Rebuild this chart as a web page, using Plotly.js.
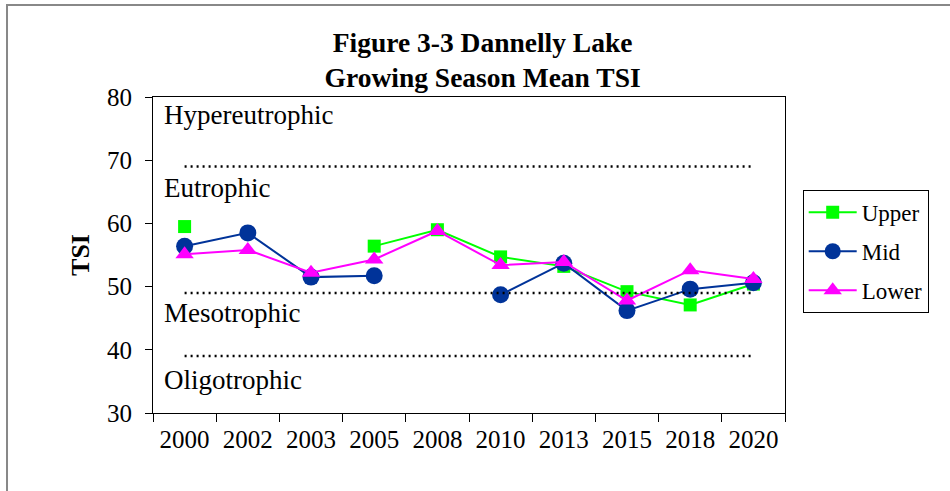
<!DOCTYPE html>
<html>
<head>
<meta charset="utf-8">
<script src="https://cdn.plot.ly/plotly-3.0.1.min.js"></script>
<style>
  html, body { margin: 0; padding: 0; background: #ffffff; }
  #chart { width: 950px; height: 491px; }
</style>
</head>
<body>
<div id="chart"></div>
<script>
// ---- Data ----
const years = ["2000", "2002", "2003", "2005", "2008", "2010", "2013", "2015", "2018", "2020"];
const upper = [59.5, null, null, 56.4, 59.0, 54.7, 53.2, 49.2, 47.1, 50.4];
const mid   = [56.4, 58.5, 51.5, 51.7, null, 48.7, 53.7, 46.2, 49.6, 50.6];
const lower = [55.1, 55.8, 52.2, 54.3, 58.8, 53.4, 53.9, 47.8, 52.6, 51.2];

const boundaries = [69, 49, 39];
const zoneNames = ["Hypereutrophic", "Eutrophic", "Mesotrophic", "Oligotrophic"];
const zoneLabelY = [77.2, 65.6, 45.9, 35.2];

const yTicks = [30, 40, 50, 60, 70, 80];

const serif = "Liberation Serif, Times New Roman, serif";

const traces = [
  { x: years, y: upper, name: "Upper", type: "scatter", mode: "lines+markers",
    line: { color: "#00ff00", width: 2 },
    marker: { symbol: "square", size: 13, color: "#00ff00" },
    legendgroup: "a" },
  { x: years, y: mid, name: "Mid", type: "scatter", mode: "lines+markers",
    line: { color: "#003399", width: 2 },
    marker: { symbol: "circle", size: 17, color: "#003399" },
    legendgroup: "b" },
  { x: years, y: lower, name: "Lower", type: "scatter", mode: "lines+markers",
    line: { color: "#ff00ff", width: 2 },
    marker: { symbol: "triangle-up", size: 16, color: "#ff00ff" },
    legendgroup: "c" }
];

const shapes = boundaries.map(v => ({
  type: "line", xref: "x", yref: "y",
  x0: 0, x1: years.length - 1, y0: v, y1: v,
  line: { color: "#000000", width: 2.5, dash: "2px,4px" }
}));
// outer frame of the picture
shapes.push({
  type: "rect", xref: "paper", yref: "paper",
  x0: -0.231, x1: 1.6, y0: -0.6, y1: 1.291,
  line: { color: "#888888", width: 2 }, layer: "below"
});

const annotations = zoneNames.map((t, i) => ({
  text: t, xref: "paper", yref: "y", x: 0.014, y: zoneLabelY[i],
  xanchor: "left", yanchor: "middle", showarrow: false,
  font: { family: serif, size: 27, color: "#000000" }
}));

const layout = {
  width: 950, height: 491,
  margin: { l: 153, r: 165, t: 97, b: 78 },
  paper_bgcolor: "#ffffff", plot_bgcolor: "#ffffff",
  font: { family: serif, color: "#000000" },
  title: {
    text: "<b>Figure 3-3 Dannelly Lake</b><br><b>Growing Season Mean TSI</b>",
    font: { family: serif, size: 27.5, color: "#000000" },
    xref: "container", x: 0.508, xanchor: "center",
    yref: "container", y: 0.895, yanchor: "top"
  },
  xaxis: {
    type: "category", range: [-0.5, 9.5],
    tickson: "boundaries", ticks: "outside", ticklen: 8, tickcolor: "#000",
    showline: true, linecolor: "#000", linewidth: 1, mirror: true,
    showgrid: false, zeroline: false,
    tickfont: { family: serif, size: 25, color: "#000" },
    ticklabelstandoff: 4
  },
  yaxis: {
    range: [30, 80], tickvals: yTicks,
    ticks: "outside", ticklen: 7, tickcolor: "#000",
    showline: true, linecolor: "#000", linewidth: 1, mirror: true,
    showgrid: false, zeroline: false,
    tickfont: { family: serif, size: 25, color: "#000" },
    ticklabelstandoff: 8,
    title: { text: "<b>TSI</b>", font: { family: serif, size: 26, color: "#000" }, standoff: 9 }
  },
  legend: {
    x: 1.028, xanchor: "left", y: 0.706, yanchor: "top",
    bordercolor: "#000", borderwidth: 1, bgcolor: "#ffffff",
    font: { family: serif, size: 23, color: "#000" },
    itemwidth: 48,
    traceorder: "grouped", tracegroupgap: 6
  },
  shapes: shapes,
  annotations: annotations,
  showlegend: true
};

Plotly.newPlot("chart", traces, layout, { displayModeBar: false, staticPlot: true });
</script>
</body>
</html>
